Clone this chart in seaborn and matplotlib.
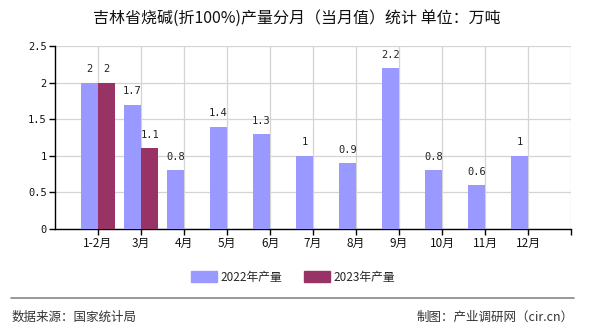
import matplotlib
matplotlib.use("Agg")
import matplotlib.pyplot as plt
import seaborn as sns
import pandas as pd
import numpy as np
from matplotlib.lines import Line2D

months = ["1-2月", "3月", "4月", "5月", "6月", "7月", "8月", "9月", "10月", "11月", "12月"]
v2022 = [2, 1.7, 0.8, 1.4, 1.3, 1, 0.9, 2.2, 0.8, 0.6, 1]
v2023 = [2, 1.1, None, None, None, None, None, None, None, None, None]
series = ["2022年产量", "2023年产量"]
colors = ["#9999FF", "#993366"]
yticks = [0, 0.5, 1, 1.5, 2, 2.5]

sns.set_theme(style="white")
plt.rcParams['font.family'] = ['Noto Sans CJK SC', 'DejaVu Sans']

df = pd.DataFrame({
    "month": months * 2,
    "value": [np.nan if v is None else v for v in v2022 + v2023],
    "series": [series[0]] * len(months) + [series[1]] * len(months),
})

W, H = 590, 330
fig = plt.figure(figsize=(W / 100, H / 100), dpi=100)
ax = fig.add_axes([55 / W, 1 - 229 / H, (571 - 55) / W, (229 - 46) / H])

sns.barplot(data=df, x="month", y="value", hue="series", order=months,
            hue_order=series, palette=colors, width=0.8, saturation=1,
            ax=ax, legend=False, zorder=3)

for p in ax.patches:
    p.set_edgecolor("none")

for c in ax.containers:
    labels = []
    for b, v in zip(c, c.datavalues):
        labels.append("" if np.isnan(v) else f"{v:g}")
    ax.bar_label(c, labels=labels, padding=6, fontsize=7.5,
                 family="DejaVu Sans Mono", color="#222222")

ax.set_xlim(-1, 11)
ax.set_ylim(0, 2.5)
ax.set_xticks(range(12))
ax.set_xticklabels(months + [""], fontsize=8.5, color="#111111")
ax.set_yticks(yticks)
ax.set_yticklabels([f"{t:g}" for t in yticks], fontsize=7.5,
                   family="DejaVu Sans Mono", color="#111111")
ax.set_xlabel("")
ax.set_ylabel("")
ax.grid(True, color="#d4d4d4", linewidth=0.9, zorder=0)
ax.set_axisbelow(True)
for s in ["top", "right"]:
    ax.spines[s].set_visible(False)
for s in ["left", "bottom"]:
    ax.spines[s].set_color("#000000")
    ax.spines[s].set_linewidth(1)
ax.tick_params(axis="both", which="both", direction="out", length=4,
               width=1, color="#000000", bottom=True, left=True, pad=2)

fig.text(297 / W, 1 - 18 / H, "吉林省烧碱(折100%)产量分月（当月值）统计 单位：万吨",
         ha="center", va="center", fontsize=11.5, color="#111111")

handles = [plt.Rectangle((0, 0), 1, 1, color=c) for c in colors]
fig.legend(handles, series, loc="center", bbox_to_anchor=(293 / W, 1 - 277 / H),
           ncol=2, frameon=False, fontsize=8.5, handlelength=2.2, handleheight=1.0,
           columnspacing=1.8, handletextpad=0.3)

fig.add_artist(Line2D([10.6 / W, 574 / W], [1 - 298 / H, 1 - 298 / H],
                      color="#888888", linewidth=1.2))
fig.text(12 / W, 1 - 317 / H, "数据来源：国家统计局", ha="left", va="center",
         fontsize=9, color="#333333")
fig.text(574 / W, 1 - 317 / H, "制图：产业调研网（cir.cn）", ha="right", va="center",
         fontsize=9, color="#333333")

fig.savefig("out.png", dpi=100, facecolor="white")
